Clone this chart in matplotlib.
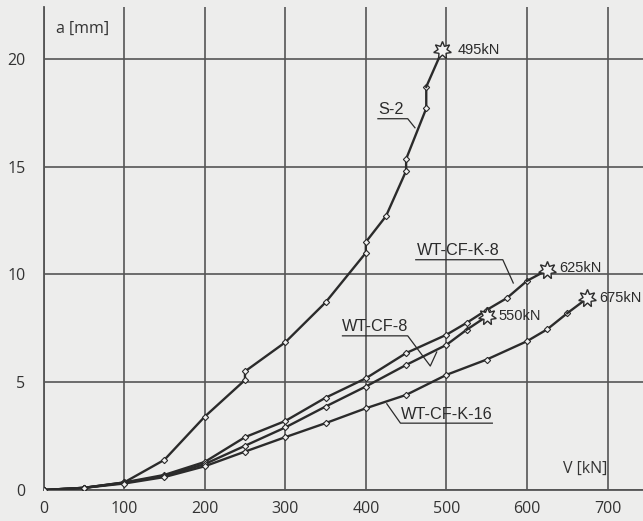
import matplotlib
matplotlib.use('Agg')
import matplotlib.pyplot as plt

# S-2
v_s2 = [0, 50, 100, 150, 200, 250, 250, 300, 350, 400, 400, 425, 450, 450, 475, 475, 495]
a_s2 = [0, 0.1, 0.35, 1.4, 3.4, 5.1, 5.5, 6.85, 8.7, 11.0, 11.5, 12.7, 14.8, 15.35, 17.7, 18.7, 20.4]

# WT-CF-K-8
v_k8 = [0, 50, 100, 150, 200, 250, 300, 350, 400, 450, 500, 525, 550, 575, 600, 625]
a_k8 = [0, 0.1, 0.35, 0.7, 1.3, 2.45, 3.2, 4.28, 5.18, 6.35, 7.2, 7.75, 8.35, 8.9, 9.7, 10.2]

# WT-CF-8
v_cf8 = [0, 50, 100, 150, 200, 250, 300, 350, 400, 450, 500, 525, 550]
a_cf8 = [0, 0.1, 0.33, 0.65, 1.2, 2.05, 2.9, 3.87, 4.8, 5.8, 6.73, 7.43, 8.05]

# WT-CF-K-16
v_k16 = [0, 50, 100, 150, 200, 250, 300, 350, 400, 450, 500, 550, 600, 625, 650, 675]
a_k16 = [0, 0.1, 0.3, 0.6, 1.1, 1.78, 2.45, 3.1, 3.79, 4.41, 5.34, 6.05, 6.9, 7.45, 8.2, 8.9]

x_ticks = [0, 100, 200, 300, 400, 500, 600, 700]
y_ticks = [0, 5, 10, 15, 20]

bg = '#ededec'
ink = '#2b2b2b'
grid_c = '#555555'

plt.rcParams['font.family'] = ['Liberation Sans', 'DejaVu Sans']

fig = plt.figure(figsize=(6.43, 5.21), dpi=100, facecolor=bg)
ax = fig.add_axes([0.0677, 0.0595, 0.9323, 0.927])
ax.set_facecolor(bg)

ax.set_xlim(0, 744)
ax.set_ylim(0, 22.4)
ax.set_xticks(x_ticks)
ax.set_yticks(y_ticks)
ax.tick_params(length=0, labelsize=11.5, colors='#333333')
ax.tick_params(axis='y', pad=13)
ax.tick_params(axis='x', pad=8)
for lab in ax.get_xticklabels() + ax.get_yticklabels():
    lab.set_family(['Open Sans', 'DejaVu Sans'])
for s in ['top', 'right']:
    ax.spines[s].set_visible(False)
for s in ['left', 'bottom']:
    ax.spines[s].set_color(grid_c)
    ax.spines[s].set_linewidth(1.3)
ax.grid(True, color=grid_c, linewidth=1.2)
ax.set_axisbelow(True)

series = [(v_s2, a_s2), (v_k8, a_k8), (v_cf8, a_cf8), (v_k16, a_k16)]
for v, a in series:
    ax.plot(v[:-1], a[:-1], color=ink, linewidth=1.7, marker='D', markersize=3.2,
            markerfacecolor='#f2f2f2', markeredgecolor=ink, markeredgewidth=0.8, zorder=3)
    ax.plot(v[-2:], a[-2:], color=ink, linewidth=1.7, zorder=3)
    ax.plot(v[-1], a[-1], marker=(7, 1, 0), markersize=13, markerfacecolor='#f2f2f2',
            markeredgecolor=ink, markeredgewidth=1.0, zorder=4, clip_on=False)

# end load labels
end_kw = dict(fontsize=10.5, color=ink, va='center')
ax.text(514, a_s2[-1], '495kN', **end_kw)
ax.text(640, a_k8[-1] + 0.1, '625kN', **end_kw)
ax.text(564, a_cf8[-1], '550kN', **end_kw)
ax.text(690, a_k16[-1], '675kN', clip_on=False, **end_kw)

# series labels with underline and leader
lab_kw = dict(fontsize=11.7, color=ink, ha='center', va='bottom')
ax.text(431, 17.3, 'S-2', **lab_kw)
ax.plot([415, 452, 461], [17.22, 17.22, 16.8], color=ink, linewidth=0.9)

ax.text(515, 10.75, 'WT-CF-K-8', **lab_kw)
ax.plot([462, 570, 583], [10.68, 10.68, 9.6], color=ink, linewidth=0.9)

ax.text(412, 7.22, 'WT-CF-8', **lab_kw)
ax.plot([371, 452, 480, 488], [7.15, 7.15, 5.75, 6.4], color=ink, linewidth=0.9)

ax.text(500, 3.15, 'WT-CF-K-16', **lab_kw)
ax.plot([426, 443, 557], [4.0, 3.1, 3.1], color=ink, linewidth=0.9)

ax.text(15, 21.4, 'a [mm]', fontsize=11.5, color='#333333', va='center',
        family=['Open Sans', 'DejaVu Sans'])
ax.text(672, 1.0, 'V [kN]', fontsize=11.5, color='#333333', ha='center', va='center',
        family=['Open Sans', 'DejaVu Sans'])

fig.savefig('out.png', dpi=100, facecolor=bg)
